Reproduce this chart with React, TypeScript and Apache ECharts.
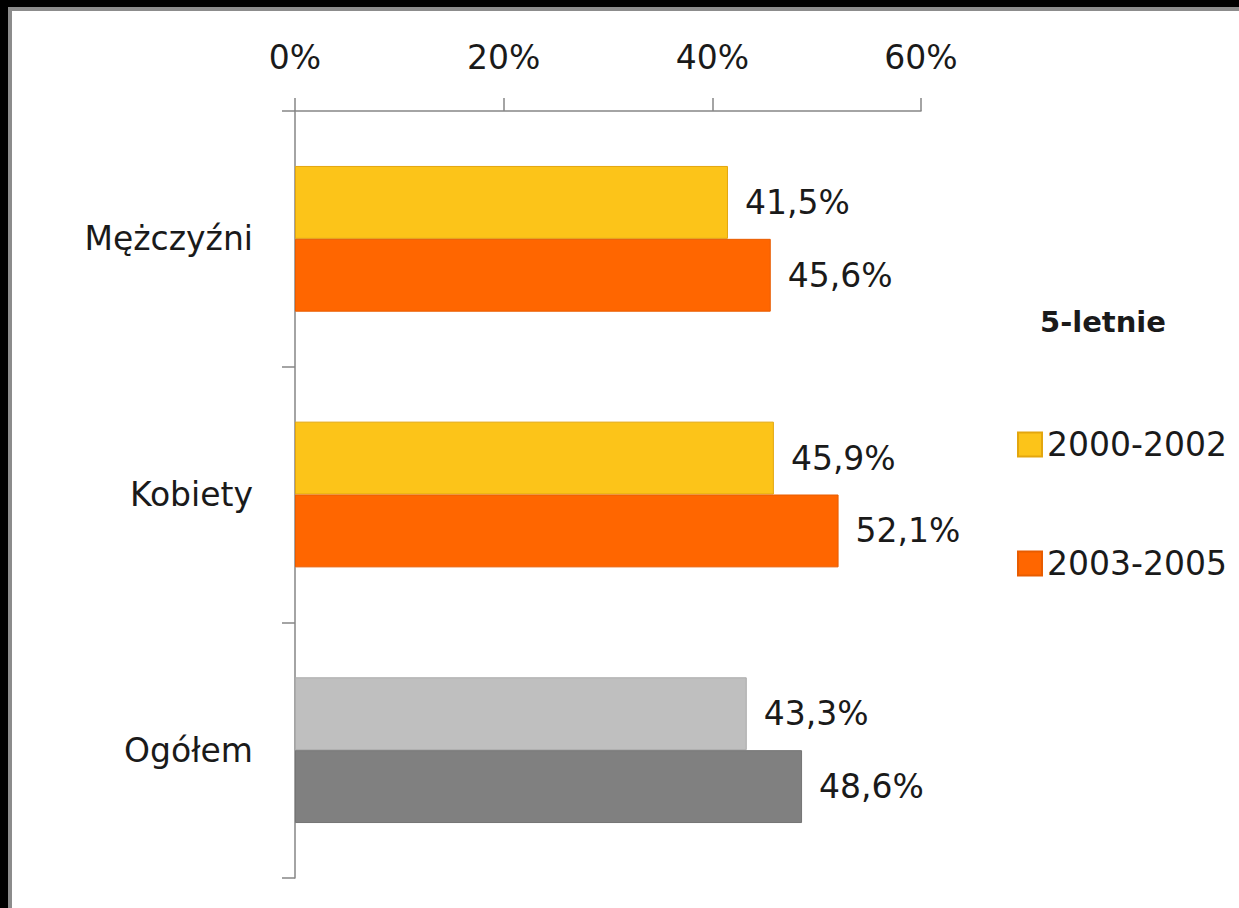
import React, { useEffect, useRef } from "react";
import * as echarts from "echarts";

const categories = ["Mężczyźni", "Kobiety", "Ogółem"];
const seriesNames = ["2000-2002", "2003-2005"];
const values2000 = [41.5, 45.9, 43.3];
const values2003 = [45.6, 52.1, 48.6];
const colors2000 = ["#FCC419", "#FCC419", "#BFBFBF"];
const colors2003 = ["#FF6600", "#FF6600", "#808080"];
const borders2000 = ["#E3A60E", "#E3A60E", "#ABABAB"];
const borders2003 = ["#E85C00", "#E85C00", "#747474"];
const xTicks = { min: 0, max: 60, interval: 20 };
const legendTitle = "5-letnie";

const FONT = "DejaVu Sans";
const FS = 33;

const fmt = (v: number) => v.toFixed(1).replace(".", ",") + "%";

export default function App() {
  const ref = useRef<HTMLDivElement>(null);
  useEffect(() => {
    document.documentElement.style.background = "#fff";
    document.body.style.background = "#fff";
    document.body.style.margin = "0";
    if (!ref.current) return;
    const chart = echarts.init(ref.current, undefined, { renderer: "svg" });
    const mk = (vals: number[], cols: string[], bords: string[]) =>
      vals.map((v, i) => ({
        value: v,
        itemStyle: { color: cols[i], borderColor: bords[i], borderWidth: 1 },
      }));
    const labelCfg = {
      show: true,
      position: "right",
      distance: 17,
      fontSize: FS,
      fontFamily: FONT,
      color: "#1a1a1a",
      formatter: (p: any) => fmt(p.value),
    };
    chart.setOption({
      animation: false,
      backgroundColor: "transparent",
      textStyle: { fontFamily: FONT },
      grid: { left: 295, top: 111, right: 318, bottom: 30, containLabel: false },
      xAxis: {
        type: "value",
        position: "top",
        min: xTicks.min,
        max: xTicks.max,
        interval: xTicks.interval,
        axisLine: { show: true, lineStyle: { color: "#868686", width: 1.5 } },
        axisTick: { show: true, length: 13, lineStyle: { color: "#868686", width: 1.5 } },
        splitLine: { show: false },
        axisLabel: {
          formatter: "{value}%",
          fontSize: FS,
          fontFamily: FONT,
          color: "#1a1a1a",
          margin: 37,
        },
      },
      yAxis: {
        type: "category",
        inverse: true,
        data: categories,
        axisLine: { show: true, lineStyle: { color: "#868686", width: 1.5 } },
        axisTick: { show: true, length: 13, lineStyle: { color: "#868686", width: 1.5 } },
        axisLabel: { fontSize: FS, fontFamily: FONT, color: "#1a1a1a", margin: 42 },
      },
      legend: {
        orient: "vertical",
        left: 1012,
        top: 423,
        itemWidth: 24,
        itemHeight: 24,
        itemGap: 86,
        icon: "rect",
        textStyle: { fontSize: FS, fontFamily: FONT, color: "#1a1a1a" },
        data: seriesNames,
      },
      graphic: [
        {
          type: "text",
          left: 1040,
          top: 307,
          style: {
            text: legendTitle,
            fontSize: 29,
            fontWeight: "bold",
            fontFamily: FONT,
            fill: "#1a1a1a",
          },
        },
      ],
      series: [
        {
          name: seriesNames[0],
          type: "bar",
          barGap: "0%",
          barCategoryGap: "43%",
          itemStyle: { color: colors2000[0], borderColor: borders2000[0], borderWidth: 1 },
          data: mk(values2000, colors2000, borders2000),
          label: labelCfg,
        },
        {
          name: seriesNames[1],
          type: "bar",
          barGap: "0%",
          barCategoryGap: "43%",
          itemStyle: { color: colors2003[0], borderColor: borders2003[0], borderWidth: 1 },
          data: mk(values2003, colors2003, borders2003),
          label: labelCfg,
        },
      ],
    });
    return () => chart.dispose();
  }, []);
  return (
    <div style={{ position: "fixed", left: 0, top: 0, width: 1300, height: 1000, background: "#fff", overflow: "hidden" }}>
      <div style={{ position: "absolute", left: 0, top: 0, width: 1300, height: 7, background: "#000" }} />
      <div style={{ position: "absolute", left: 0, top: 0, width: 8, height: 1000, background: "#000" }} />
      <div style={{ position: "absolute", left: 8, top: 7, width: 1292, height: 4, background: "#8c8c8c" }} />
      <div style={{ position: "absolute", left: 8, top: 7, width: 4, height: 993, background: "#8c8c8c" }} />
      <div ref={ref} style={{ position: "absolute", left: 0, top: 0, width: 1239, height: 908 }} />
    </div>
  );
}
